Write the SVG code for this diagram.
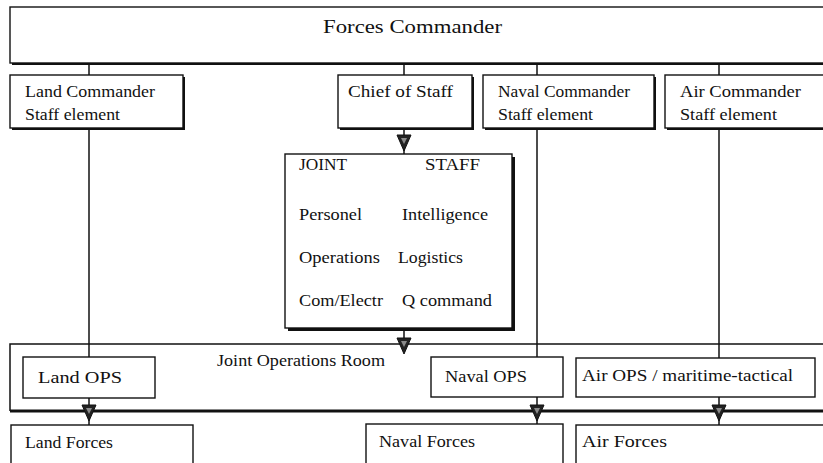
<svg xmlns="http://www.w3.org/2000/svg" width="823" height="463" viewBox="0 0 823 463">
  <style>
    .box { fill: #ffffff; stroke: #111111; stroke-width: 1.4; }
    .shadow { fill: #111111; }
    .wire { stroke: #111111; stroke-width: 1.5; fill: none; }
    .thick { stroke: #111111; stroke-width: 3; fill: none; }
    text { font-family: "Liberation Serif", "Times New Roman", serif; font-size: 16.5px; fill: #111111; }
    .title { font-size: 19px; }
  </style>
  <defs>
    <!-- downward arrowhead, tip at (0,16) -->
    <g id="tri">
      <path d="M-7,0 L7,0 L0,16 Z" fill="#222222" stroke="#111111" stroke-width="1"/>
      <path d="M-3,3 L3,3 L0,9 Z" fill="#8a8a8a"/>
    </g>
  </defs>

  <rect width="823" height="463" fill="#ffffff"/>

  <!-- connectors -->
  <g id="connectors">
    <line class="wire" x1="89" y1="63" x2="89" y2="75"/>
    <line class="wire" x1="404" y1="63" x2="404" y2="75"/>
    <line class="wire" x1="537" y1="63" x2="537" y2="75"/>
    <line class="wire" x1="719" y1="63" x2="719" y2="75"/>

    <line class="wire" x1="89" y1="128" x2="89" y2="357"/>
    <line class="wire" x1="537" y1="128" x2="537" y2="357"/>
    <line class="wire" x1="719" y1="128" x2="719" y2="358"/>

    <line class="wire" x1="404" y1="128" x2="404" y2="154"/>
    <use href="#tri" transform="translate(404,135)"/>
    <line class="wire" x1="404" y1="328" x2="404" y2="350"/>

    <line class="wire" x1="89" y1="398" x2="89" y2="425"/>
    <line class="wire" x1="537" y1="397" x2="537" y2="424"/>
    <line class="wire" x1="719" y1="397" x2="719" y2="425"/>
  </g>

  <!-- top level -->
  <g id="forces-commander">
    <rect class="shadow" x="12" y="9" width="830" height="56"/>
    <rect class="box" x="10" y="7" width="830" height="56"/>
    <text class="title" x="323" y="33" textLength="179" lengthAdjust="spacingAndGlyphs">Forces Commander</text>
  </g>

  <g id="land-commander">
    <rect class="shadow" x="12" y="77" width="173" height="53"/>
    <rect class="box" x="10" y="75" width="173" height="53"/>
    <text x="25" y="97" textLength="130" lengthAdjust="spacingAndGlyphs">Land Commander</text>
    <text x="25" y="120" textLength="95" lengthAdjust="spacingAndGlyphs">Staff element</text>
  </g>

  <g id="chief-of-staff">
    <rect class="shadow" x="340" y="77" width="134" height="53"/>
    <rect class="box" x="338" y="75" width="134" height="53"/>
    <text x="348" y="97" textLength="105" lengthAdjust="spacingAndGlyphs">Chief of Staff</text>
  </g>

  <g id="naval-commander">
    <rect class="shadow" x="485" y="77" width="171" height="53"/>
    <rect class="box" x="483" y="75" width="171" height="53"/>
    <text x="498" y="97" textLength="132" lengthAdjust="spacingAndGlyphs">Naval Commander</text>
    <text x="498" y="120" textLength="95" lengthAdjust="spacingAndGlyphs">Staff element</text>
  </g>

  <g id="air-commander">
    <rect class="shadow" x="667" y="77" width="170" height="53"/>
    <rect class="box" x="665" y="75" width="170" height="53"/>
    <text x="680" y="97" textLength="121" lengthAdjust="spacingAndGlyphs">Air Commander</text>
    <text x="680" y="120" textLength="97" lengthAdjust="spacingAndGlyphs">Staff element</text>
  </g>

  <g id="joint-staff">
    <rect class="shadow" x="288" y="157" width="227" height="174"/>
    <rect class="box" x="285" y="154" width="227" height="174"/>
    <text x="299" y="170" textLength="48" lengthAdjust="spacingAndGlyphs">JOINT</text>
    <text x="425" y="170" textLength="55" lengthAdjust="spacingAndGlyphs">STAFF</text>
    <text x="299" y="220" textLength="63" lengthAdjust="spacingAndGlyphs">Personel</text>
    <text x="402" y="220" textLength="86" lengthAdjust="spacingAndGlyphs">Intelligence</text>
    <text x="299" y="263" textLength="81" lengthAdjust="spacingAndGlyphs">Operations</text>
    <text x="398" y="263" textLength="65" lengthAdjust="spacingAndGlyphs">Logistics</text>
    <text x="299" y="306" textLength="84" lengthAdjust="spacingAndGlyphs">Com/Electr</text>
    <text x="402" y="306" textLength="90" lengthAdjust="spacingAndGlyphs">Q command</text>
  </g>

  <!-- operations room frame -->
  <g id="joint-operations-room">
    <path class="wire" d="M840,344 L10,344 L10,411"/>
    <line class="thick" x1="10" y1="411" x2="823" y2="411"/>
    <text x="217" y="366" textLength="168" lengthAdjust="spacingAndGlyphs">Joint Operations Room</text>
  </g>

  <use href="#tri" transform="translate(404,338)"/>

  <g id="land-ops">
    <rect class="box" x="23" y="357" width="132" height="41"/>
    <text x="38" y="383" textLength="84" lengthAdjust="spacingAndGlyphs">Land OPS</text>
  </g>

  <g id="naval-ops">
    <rect class="box" x="431" y="357" width="132" height="40"/>
    <text x="445" y="382" textLength="82" lengthAdjust="spacingAndGlyphs">Naval OPS</text>
  </g>

  <g id="air-ops">
    <rect class="box" x="576" y="358" width="239" height="39"/>
    <text x="582" y="381" textLength="211" lengthAdjust="spacingAndGlyphs">Air OPS / maritime-tactical</text>
  </g>

  <use href="#tri" transform="translate(89,405)"/>
  <use href="#tri" transform="translate(537,405)"/>
  <use href="#tri" transform="translate(719,405)"/>

  <g id="land-forces">
    <rect class="box" x="11" y="425" width="182" height="50"/>
    <text x="25" y="448" textLength="88" lengthAdjust="spacingAndGlyphs">Land Forces</text>
  </g>

  <g id="naval-forces">
    <rect class="box" x="366" y="424" width="197" height="50"/>
    <text x="379" y="447" textLength="96" lengthAdjust="spacingAndGlyphs">Naval Forces</text>
  </g>

  <g id="air-forces">
    <rect class="box" x="576" y="425" width="260" height="50"/>
    <text x="582" y="447" textLength="85" lengthAdjust="spacingAndGlyphs">Air Forces</text>
  </g>
</svg>
